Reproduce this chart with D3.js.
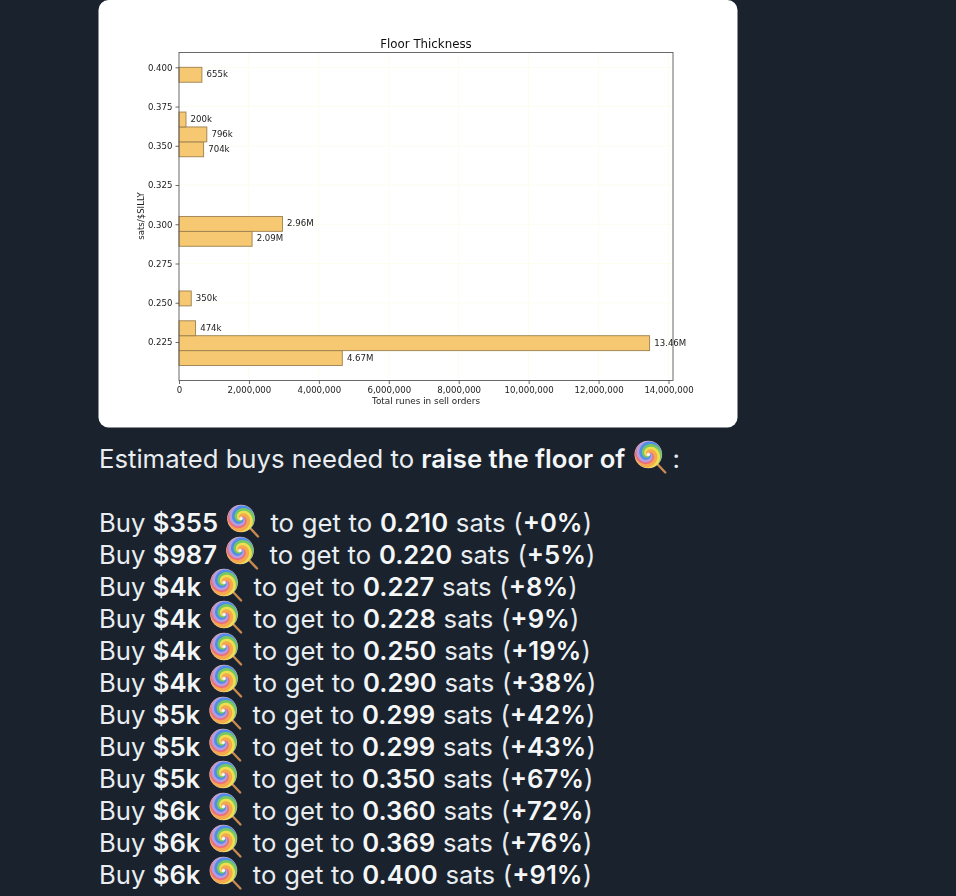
<!DOCTYPE html>
<html>
<head>
<meta charset="utf-8">
<script src="https://cdn.jsdelivr.net/npm/d3@7"></script>
<style>
  html, body { margin: 0; padding: 0; background: #1a232d; overflow: hidden; }
  svg { display: block; }
  .tick text { font-family: "DejaVu Sans"; }
</style>
</head>
<body>
<div id="chart-area"></div>
<script>
// histogram bins, lower edge of each bar
const binStarts = [0.21, 0.2195, 0.229, 0.248, 0.286, 0.2955, 0.343, 0.3525, 0.362, 0.3905]
const BIN_SIZE = 0.0095
const runeTotals = [4670000, 13460000, 474000, 350000, 2090000, 2960000, 704000, 796000, 200000, 655000]

const xTicks = [0, 2000000, 4000000, 6000000, 8000000, 10000000, 12000000, 14000000]
const yTicks = [0.225, 0.25, 0.275, 0.3, 0.325, 0.35, 0.375, 0.4]

// the list under the chart
const buyAmounts = ["$355", "$987", "$4k", "$4k", "$4k", "$4k", "$5k", "$5k", "$5k", "$6k", "$6k", "$6k"]
const targetSats = ["0.210", "0.220", "0.227", "0.228", "0.250", "0.290", "0.299", "0.299", "0.350", "0.360", "0.369", "0.400"]
const gains = ["+0%", "+5%", "+8%", "+9%", "+19%", "+38%", "+42%", "+43%", "+67%", "+72%", "+76%", "+91%"]

const WIDTH = 956
const HEIGHT = 896
const PLOT = { LEFT: 179, RIGHT: 673, TOP: 52.5, BOTTOM: 380.5 }

const svg = d3.select("#chart-area").append("svg")
  .attr("width", WIDTH)
  .attr("height", HEIGHT)

const defs = svg.append("defs")

// the reference is a slightly soft screenshot
defs.append("filter").attr("id", "soft")
  .append("feGaussianBlur").attr("stdDeviation", 0.3)

// white card
svg.append("rect")
  .attr("x", 98.5)
  .attr("y", 0)
  .attr("width", 639)
  .attr("height", 427.5)
  .attr("rx", 10)
  .attr("fill", "#ffffff")

const chart = svg.append("g").attr("filter", "url(#soft)")

const x = d3.scaleLinear()
  .domain([0, 14000000])
  .range([PLOT.LEFT, 668.5])

const y = d3.scaleLinear()
  .domain([0.225, 0.4])
  .range([342, 67.3])

// grid
chart.append("g").selectAll("line")
  .data(xTicks.slice(1))
  .join("line")
  .attr("x1", d => x(d)).attr("x2", d => x(d))
  .attr("y1", PLOT.TOP).attr("y2", PLOT.BOTTOM)
  .attr("stroke", "#fcfcef")

chart.append("g").selectAll("line")
  .data(yTicks)
  .join("line")
  .attr("x1", PLOT.LEFT).attr("x2", PLOT.RIGHT)
  .attr("y1", d => y(d)).attr("y2", d => y(d))
  .attr("stroke", "#fcfcef")

// bars
const bars = binStarts.map((start, i) => ({ start, total: runeTotals[i] }))

chart.append("g").selectAll("rect")
  .data(bars)
  .join("rect")
  .attr("x", x(0))
  .attr("y", d => y(d.start + BIN_SIZE))
  .attr("width", d => x(d.total) - x(0))
  .attr("height", d => y(d.start) - y(d.start + BIN_SIZE))
  .attr("fill", "#f6c871")
  .attr("stroke", "#9c8050")
  .attr("stroke-width", 0.9)

const shortNumber = v => v >= 1000000 ? (v / 1000000).toFixed(2) + "M" : Math.round(v / 1000) + "k"

chart.append("g").selectAll("text")
  .data(bars)
  .join("text")
  .attr("x", d => x(d.total) + 4.6)
  .attr("y", d => y(d.start + BIN_SIZE / 2) - 0.4)
  .attr("dy", "0.35em")
  .attr("font-family", "DejaVu Sans")
  .attr("font-size", 8.6)
  .attr("fill", "#222")
  .text(d => shortNumber(d.total))

// frame
chart.append("rect")
  .attr("x", PLOT.LEFT)
  .attr("y", PLOT.TOP)
  .attr("width", PLOT.RIGHT - PLOT.LEFT)
  .attr("height", PLOT.BOTTOM - PLOT.TOP)
  .attr("fill", "none")
  .attr("stroke", "#5a5a5a")
  .attr("stroke-width", 0.9)

// axes
const xAxisCall = d3.axisBottom(x).tickValues(xTicks).tickFormat(d3.format(",")).tickSize(3.5).tickPadding(2.5)
const yAxisCall = d3.axisLeft(y).tickValues(yTicks).tickFormat(d3.format(".3f")).tickSize(3.5).tickPadding(3)

const xAxisGroup = chart.append("g")
  .attr("transform", `translate(0, ${PLOT.BOTTOM})`)
  .call(xAxisCall)

const yAxisGroup = chart.append("g")
  .attr("transform", `translate(${PLOT.LEFT}, 0)`)
  .call(yAxisCall)

for (const axis of [xAxisGroup, yAxisGroup]) {
  axis.select(".domain").remove()
  axis.selectAll("line").attr("stroke", "#444").attr("stroke-width", 0.8)
  axis.selectAll("text").attr("font-size", 8.6).attr("fill", "#222")
}

chart.append("text")
  .attr("x", 426).attr("y", 48)
  .attr("text-anchor", "middle")
  .attr("font-family", "DejaVu Sans")
  .attr("font-size", 11.8)
  .attr("fill", "#111")
  .text("Floor Thickness")

chart.append("text")
  .attr("x", 426).attr("y", 404)
  .attr("text-anchor", "middle")
  .attr("font-family", "DejaVu Sans")
  .attr("font-size", 8.85)
  .attr("fill", "#222")
  .text("Total runes in sell orders")

chart.append("text")
  .attr("transform", "translate(144, 216) rotate(-90)")
  .attr("text-anchor", "middle")
  .attr("font-family", "DejaVu Sans")
  .attr("font-size", 8.6)
  .attr("fill", "#222")
  .text("sats/$SILLY")

// lollipop emoji, no colour emoji font here so it gets drawn
const lolly = defs.append("g").attr("id", "lolly")
lolly.append("line")
  .attr("x1", 0).attr("y1", 0)
  .attr("x2", 17).attr("y2", 18)
  .attr("stroke", "#c9894f")
  .attr("stroke-width", 2.4)
  .attr("stroke-linecap", "round")
lolly.append("circle").attr("r", 13.8).attr("fill", "#e8c3bb")

defs.append("clipPath").attr("id", "lolly-clip")
  .append("circle").attr("r", 13.4)

const swirlColors = ["#ee6f78", "#b59ce0", "#4f8de6", "#74c765", "#efdf4f", "#f4a94f"]
const spiral = d3.lineRadial().curve(d3.curveCatmullRom)
const swirl = lolly.append("g").attr("clip-path", "url(#lolly-clip)")
swirlColors.forEach((color, i) => {
  const offset = i * 2 * Math.PI / swirlColors.length
  const pts = d3.range(0, 1.01, 0.05).map(t => [offset + t * 2.4 * Math.PI, t * 20])
  swirl.append("path")
    .attr("d", spiral(pts))
    .attr("fill", "none")
    .attr("stroke", color)
    .attr("stroke-width", 3.4)
})
lolly.append("circle").attr("r", 1.8).attr("fill", "#f7f3ea")

// text rows are placed piece by piece, an emoji sits between the pieces
const TEXT_FONT = "Inter"
const TEXT_SIZE = 25.7
const TEXT_LEFT = 99

function addPieces(baseline, pieces) {
  let cursor = TEXT_LEFT
  pieces.forEach(p => {
    if (p.emoji) {
      svg.append("use")
        .attr("href", "#lolly")
        .attr("x", cursor + 16.5)
        .attr("y", baseline - 13.5)
      cursor += p.emoji
      return
    }
    const t = svg.append("text")
      .attr("x", cursor)
      .attr("y", baseline)
      .style("white-space", "pre")
      .style("word-spacing", (p.gap || 0) + "px")
      .attr("font-family", TEXT_FONT)
      .attr("font-size", TEXT_SIZE)
      .attr("font-weight", p.bold ? 600 : 400)
      .attr("fill", p.bold ? "#f4f6f8" : "#e9edf1")
      .text(p.text)
    cursor += t.node().getComputedTextLength()
  })
}

addPieces(468, [
  { text: "Estimated buys needed to " },
  { text: "raise the floor of ", bold: true },
  { emoji: 33.5 },
  { text: " :" }
])

buyAmounts.forEach((amount, i) => {
  addPieces(532 + i * 32, [
    { text: "Buy " },
    { text: amount + " ", bold: true },
    { emoji: 30.5 },
    { text: "  to get to ", gap: 0.5 },
    { text: targetSats[i], bold: true },
    { text: " sats (", gap: 0.5 },
    { text: gains[i], bold: true },
    { text: ")" }
  ])
})
</script>
</body>
</html>
